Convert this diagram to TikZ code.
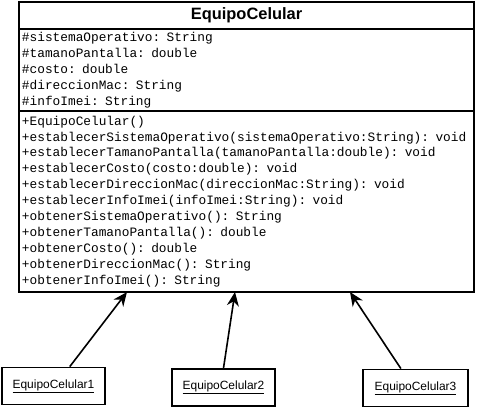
\documentclass[tikz,border=0pt]{standalone}
\usepackage{fontspec}
\setmainfont{Liberation Sans}
\setmonofont{Liberation Mono}
\usetikzlibrary{arrows.meta,positioning}

\begin{document}
\begin{tikzpicture}[x=1bp,y=-1bp]
	\useasboundingbox (0,0) rectangle (477,407);
	\begin{scope}[every node/.style={draw,line width=1.6bp,outer sep=0pt,minimum width=455bp},
              seccion/.style={align=left,text width=449bp,inner xsep=3bp,inner ysep=0pt,
                font=\ttfamily\fontsize{12.85}{16}\selectfont}]
    	\node[minimum height=27bp,font=\bfseries\fontsize{16.5}{18}\selectfont] (clase) at (246.5,15.5) {EquipoCelular};
    	\node[seccion,minimum height=82bp,below=0pt of clase] (atributos) {\#sistemaOperativo: String\\
    	\#tamanoPantalla: double\\
    	\#costo: double\\
    	\#direccionMac: String\\
    	\#infoImei: String};
    	\node[seccion,minimum height=181bp,below=0pt of atributos] (metodos) {+EquipoCelular()\\
    	+establecerSistemaOperativo(sistemaOperativo:String): void\\
    	+establecerTamanoPantalla(tamanoPantalla:double): void\\
    	+establecerCosto(costo:double): void\\
    	+establecerDireccionMac(direccionMac:String): void\\
    	+establecerInfoImei(infoImei:String): void\\
    	+obtenerSistemaOperativo(): String\\
    	+obtenerTamanoPantalla(): double\\
    	+obtenerCosto(): double\\
    	+obtenerDireccionMac(): String\\
    	+obtenerInfoImei(): String};
	\end{scope}
	\begin{scope}[every node/.style={draw,line width=1.8bp,minimum height=37bp,
                font=\fontsize{12}{14}\selectfont}]
    	\node[minimum width=103bp] (obj1) at (53.5,386) {\underline{EquipoCelular1}};
    	\node[minimum width=103bp] (obj2) at (223.5,387.5) {\underline{EquipoCelular2}};
    	\node[minimum width=105bp] (obj3) at (415.5,388) {\underline{EquipoCelular3}};
	\end{scope}
	\coordinate (p1) at ([xshift=-119.5bp]metodos.south);
	\coordinate (p2) at ([xshift=-11.5bp]metodos.south);
	\coordinate (p3) at ([xshift=103.5bp]metodos.south);
	\begin{scope}[>={Stealth[length=14bp,width=12bp]}, line width=1.6bp]
    	\draw[->] (obj1.50) -- (p1);
    	\draw[->] (obj2.north) -- (p2);
    	\draw[->] (obj3.127) -- (p3);
	\end{scope}
\end{tikzpicture}
\end{document}
